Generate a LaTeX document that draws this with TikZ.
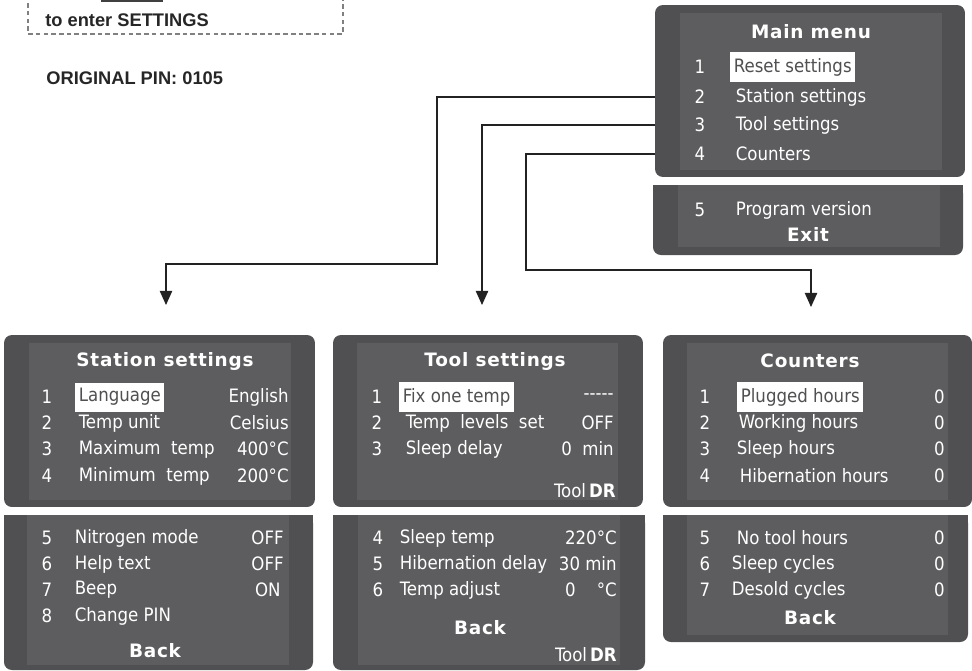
\documentclass[tikz,border=0pt]{standalone}
\usepackage{fontspec}
\setmainfont{Liberation Sans}
\newfontfamily\lcd{DejaVu Sans Condensed}
\newfontfamily\lcdbold{DejaVu Sans Bold}[LetterSpace=4]
\usetikzlibrary{arrows.meta}
\definecolor{panelgray}{HTML}{505052}
\definecolor{screengray}{HTML}{5D5D5F}
\definecolor{linegray}{HTML}{222222}

\begin{document}
\begin{tikzpicture}[x=0.02cm,y=-0.02cm,
  panel/.style={fill=panelgray,rounded corners=4.5pt,inner sep=0pt},
  ttl/.style={text=white,font=\lcdbold\fontsize{10.5}{12}\selectfont},
  num/.style={text=white,font=\lcd\fontsize{10.5}{12}\selectfont},
  item/.style={text=white,font=\lcd\fontsize{10.5}{12}\selectfont,anchor=west,inner xsep=2pt},
  val/.style={text=white,font=\lcd\fontsize{10.5}{12}\selectfont,anchor=east,inner xsep=0pt},
  hl/.style={item,fill=white,text=panelgray,minimum height=0.57cm},
  link/.style={draw=linegray,line width=0.75pt,-{Triangle[length=8pt,width=7pt]}},
  note/.style={text=black!85,font=\bfseries\fontsize{10.4}{12}\selectfont,anchor=west,inner sep=0pt}]
\useasboundingbox (0,0) rectangle (972,670);

% key hint, top left
\draw[gray,line width=0.6pt,dash pattern=on 2.6pt off 1.8pt] (28,-20) -- (28,34) -- (343,34) -- (343,-20);
\draw[gray!50!black,line width=0.6pt] (102,-20) rectangle (162,1);
\node[note] (enter) at (45,20) {to enter SETTINGS};
\node[note] (pin) at (46,78) {ORIGINAL PIN: 0105};

% main menu
\node[panel,minimum width=6.2cm,minimum height=3.44cm] (main) at (810,91) {};
\fill[screengray] (680,13) rectangle (942,170);
\node[ttl] (mmt) at (811,32) {Main menu};
\node[num] (mmn1) at (700,67) {1};
\node[hl] (mm1) at (730,67) {Reset settings};
\node[num] (mmn2) at (700,97) {2};
\node[item] (mm2) at (732,97) {Station settings};
\node[num] (mmn3) at (700,125) {3};
\node[item] (mm3) at (732,125) {Tool settings};
\node[num] (mmn4) at (700,154) {4};
\node[item] (mm4) at (732,154) {Counters};
\fill[panelgray,rounded corners=4.5pt] (653,185) rectangle (963,255);
\fill[panelgray] (653,185) rectangle (963,200);
\fill[screengray] (678,185) rectangle (940,247);
\node[num] (mmn5) at (700,210) {5};
\node[item] (mm5) at (732,210) {Program version};
\node[ttl] (mmexit) at (808,234) {Exit};

% station settings
\node[panel,minimum width=6.22cm,minimum height=3.44cm] (station) at (159.5,421) {};
\fill[screengray] (29,343) rectangle (291,500);
\node[ttl] (stt) at (165,361) {Station settings};
\node[num] (stn1) at (47,397) {1};
\node[hl] (st1) at (75,397) {Language};
\node[val] (stv1) at (289,397) {English};
\node[num] (stn2) at (47,423) {2};
\node[item] (st2) at (75,423) {Temp unit};
\node[val] (stv2) at (289,423) {Celsius};
\node[num] (stn3) at (47,449) {3};
\node[item] (st3) at (75,449) {Maximum\ \ temp};
\node[val] (stv3) at (289,449) {400°C};
\node[num] (stn4) at (47,476) {4};
\node[item] (st4) at (75,476) {Minimum\ \ temp};
\node[val] (stv4) at (289,476) {200°C};
\fill[panelgray,rounded corners=4.5pt] (4,515) rectangle (313,670);
\fill[panelgray] (4,515) rectangle (313,530);
\fill[screengray] (27,515) rectangle (289,665);
\node[num] (stn5) at (47,538) {5};
\node[item] (st5) at (71,538) {Nitrogen mode};
\node[val] (stv5) at (284,538) {OFF};
\node[num] (stn6) at (47,564) {6};
\node[item] (st6) at (71,564) {Help text};
\node[val] (stv6) at (284,564) {OFF};
\node[num] (stn7) at (47,590) {7};
\node[item] (st7) at (71,590) {Beep};
\node[val] (stv7) at (281,590) {ON};
\node[num] (stn8) at (47,616) {8};
\node[item] (st8) at (71,616) {Change PIN};
\node[ttl] (stback) at (155,651) {Back};

% tool settings
\node[panel,minimum width=6.2cm,minimum height=3.44cm] (tool) at (488,421) {};
\fill[screengray] (357,343) rectangle (618,500);
\node[ttl] (tlt) at (495,361) {Tool settings};
\node[num] (tln1) at (377,397) {1};
\node[hl] (tl1) at (399,397) {Fix one temp};
\node[val] (tlv1) at (614,397) {-----};
\node[num] (tln2) at (377,423) {2};
\node[item] (tl2) at (402,423) {Temp\ \ levels\ \ set};
\node[val] (tlv2) at (614,423) {OFF};
\node[num] (tln3) at (377,449) {3};
\node[item] (tl3) at (402,449) {Sleep delay};
\node[val] (tlv3) at (614,449) {0\ \ min};
\node[val] (tldr1) at (616,491) {Tool\,\textbf{DR}};
\fill[panelgray,rounded corners=4.5pt] (333,515) rectangle (645,670);
\fill[panelgray] (333,515) rectangle (645,530);
\fill[screengray] (358,515) rectangle (620,665);
\node[num] (tln4) at (378,538) {4};
\node[item] (tl4) at (396,538) {Sleep temp};
\node[val] (tlv4) at (617,538) {220°C};
\node[num] (tln5) at (378,564) {5};
\node[item] (tl5) at (396,564) {Hibernation delay};
\node[val] (tlv5) at (617,564) {30\ min};
\node[num] (tln6) at (378,590) {6};
\node[item] (tl6) at (396,590) {Temp adjust};
\node[val] (tlv6) at (617,590) {0\ \ \ \ °C};
\node[ttl] (tlback) at (480,628) {Back};
\node[val] (tldr2) at (617,655) {Tool\,\textbf{DR}};

% counters
\node[panel,minimum width=6.18cm,minimum height=3.44cm] (counters) at (817.5,421) {};
\fill[screengray] (687,343) rectangle (948,500);
\node[ttl] (ctt) at (810,361) {Counters};
\node[num] (ctn1) at (705,397) {1};
\node[hl] (ct1) at (737,397) {Plugged hours};
\node[val] (ctv1) at (945,397) {0};
\node[num] (ctn2) at (705,423) {2};
\node[item] (ct2) at (735,423) {Working hours};
\node[val] (ctv2) at (945,423) {0};
\node[num] (ctn3) at (705,449) {3};
\node[item] (ct3) at (733,449) {Sleep hours};
\node[val] (ctv3) at (945,449) {0};
\node[num] (ctn4) at (705,476) {4};
\node[item] (ct4) at (736,476) {Hibernation hours};
\node[val] (ctv4) at (945,476) {0};
\fill[panelgray,rounded corners=4.5pt] (663,515) rectangle (968,642);
\fill[panelgray] (663,515) rectangle (968,530);
\fill[screengray] (687,515) rectangle (948,635);
\node[num] (ctn5) at (705,538) {5};
\node[item] (ct5) at (733,538) {No tool hours};
\node[val] (ctv5) at (945,538) {0};
\node[num] (ctn6) at (705,564) {6};
\node[item] (ct6) at (728,564) {Sleep cycles};
\node[val] (ctv6) at (945,564) {0};
\node[num] (ctn7) at (705,590) {7};
\node[item] (ct7) at (728,590) {Desold cycles};
\node[val] (ctv7) at (945,590) {0};
\node[ttl] (ctback) at (810,618) {Back};

% links from main menu
\coordinate (sttip) at (166,305);
\coordinate (tltip) at (482,305);
\coordinate (cttip) at (811,307);
\draw[link] (main.west |- mm2) -| (437,264) -| (sttip);
\draw[link] (main.west |- mm3) -| (tltip);
\draw[link] (main.west |- mm4) -| (526,270) -| (cttip);
\end{tikzpicture}
\end{document}
